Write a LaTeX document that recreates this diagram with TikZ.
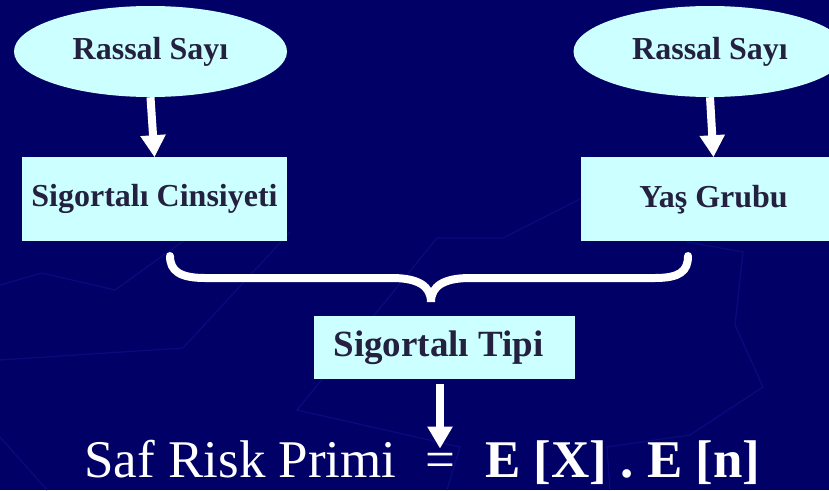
\documentclass[tikz,border=0pt]{standalone}
\usepackage{fontspec}
\setmainfont{Liberation Serif}
\definecolor{Navy}{HTML}{000066}
\definecolor{LightCyan}{HTML}{CCFFFF}
\definecolor{DarkText}{HTML}{24203F}
\definecolor{FaintBlue}{HTML}{0A0A7C}
\usetikzlibrary{shapes.geometric,positioning,arrows.meta}

\begin{document}
\begin{tikzpicture}
[x=1pt,y=-1pt,
   oval/.style={ellipse,fill=LightCyan,minimum width=273pt,minimum
   height=91pt,inner sep=0pt,text=DarkText,font=\fontsize{32}{36}\selectfont\bfseries},
   block/.style={rectangle,fill=LightCyan,minimum width=265pt,minimum
   height=84pt,inner sep=0pt,text=DarkText,font=\fontsize{32}{36}\selectfont\bfseries},
   eqn/.style={text=white,inner sep=0pt,font=\fontsize{53}{60}\selectfont},
   flow/.style={white,line width=8pt,-{Triangle[width=24pt,length=22pt]}},
   bgline/.style={FaintBlue,line width=1.3pt}]
\useasboundingbox (0,0) rectangle (829,490);
\clip (0,0) rectangle (829,490);
\fill[Navy] (0,0) rectangle (829,490);
%% background lines
\draw[bgline] (0,285) -- (42,273) -- (115,290) -- (200,229);
\draw[bgline] (290,232) -- (183,348) -- (0,360);
\draw[bgline] (0,437) -- (47,490);
\draw[bgline] (580,199) -- (503,238) -- (437,238) -- (297,410) -- (460,447) -- (447,490);
\draw[bgline] (687,242) -- (743,252) -- (735,325) -- (763,387) -- (690,435)
   -- (607,447) -- (610,490);

\node[oval] (rs1) at (150.5,51.5) {Rassal Sayı};
\node[oval] (rs2) at (710,51.5) {Rassal Sayı};
\node[block,below=60pt of rs1,xshift=4pt] (cins) {Sigortalı Cinsiyeti};
\node[block,below=60pt of rs2,xshift=3.5pt] (yas) {Yaş Grubu};
\node[block,minimum width=261pt,minimum height=63pt,
   font=\fontsize{37}{40}\selectfont\bfseries] (tipi) at (444.5,347.5) {Sigortalı Tipi\hspace*{12pt}};

\node[eqn,anchor=base] (eq) at (440,477) {=};
\node[eqn,anchor=base east] (lhs) at ([xshift=-28pt]eq.base west) {Saf Risk Primi};
\node[eqn,anchor=base west,font=\fontsize{53}{60}\selectfont\bfseries] (rhs)
   at ([xshift=30pt]eq.base east) {E [X] . E [n]};

\draw[flow] (rs1.south) -- (cins.north);
\draw[flow] (rs2.south) -- (yas.north);
\draw[flow,shorten <=5pt,shorten >=4pt] (eq.north |- tipi.south) -- (eq.north);
%% brace
\draw[white,line width=8pt,line cap=round]
   (170,256) .. controls (170,271) and (180,278) .. (205,278) -- (392,278)
   .. controls (418,278) and (431,286) .. (431,302)
   .. controls (431,286) and (444,278) .. (470,278) -- (655,278)
   .. controls (680,278) and (688,271) .. (688,256);
\end{tikzpicture}
\end{document}
